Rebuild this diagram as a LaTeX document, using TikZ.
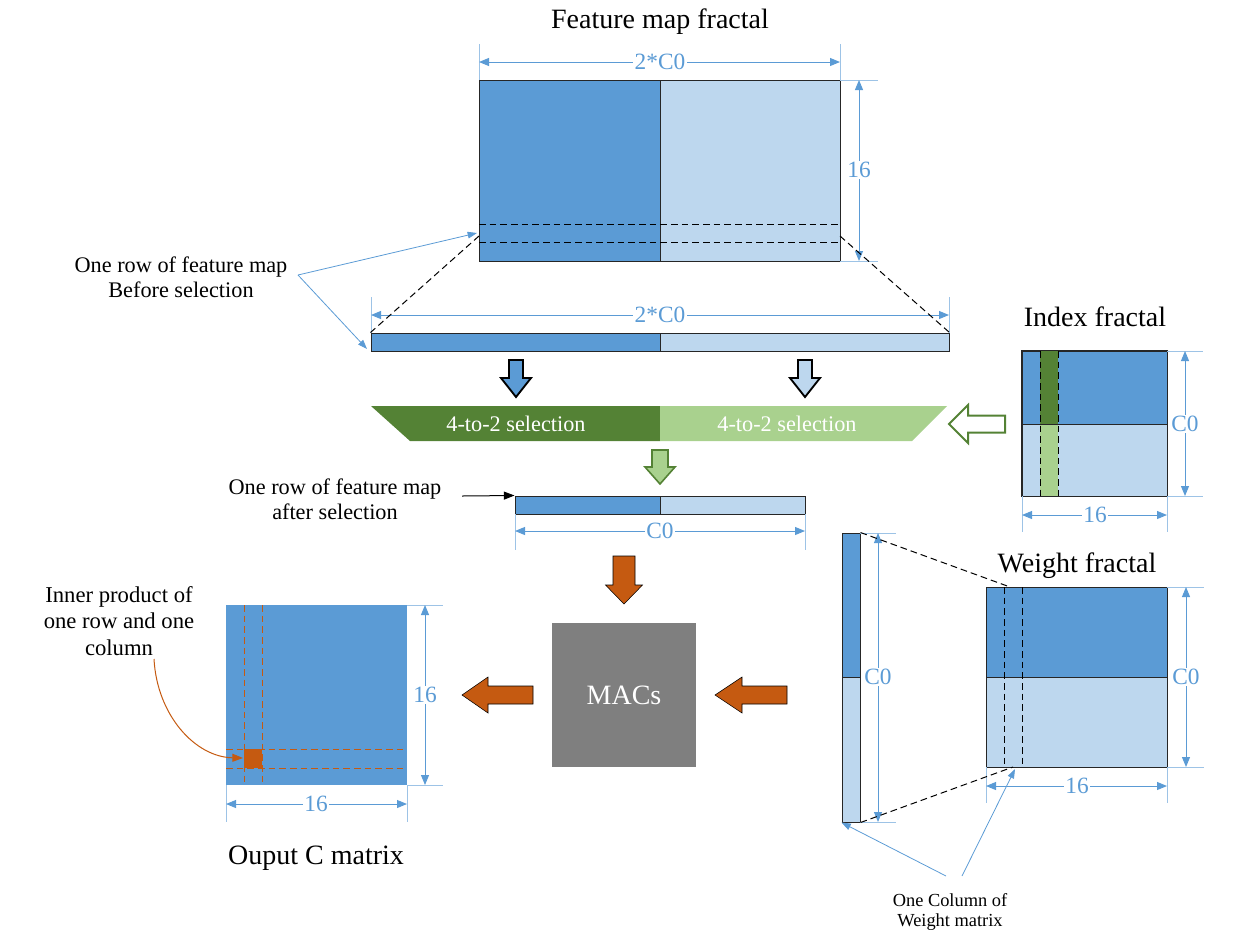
\documentclass[tikz,border=0pt]{standalone}
\usepackage{fontspec}
\setmainfont{Liberation Serif}
\usetikzlibrary{arrows.meta,fit}
\definecolor{dblue}{HTML}{5B9BD5}
\definecolor{lblue}{HTML}{BDD7EE}
\definecolor{dimc}{HTML}{5B9BD5}
\definecolor{extc}{HTML}{9DC3E6}
\definecolor{dgreen}{HTML}{548235}
\definecolor{lgreen}{HTML}{A9D18E}
\definecolor{orng}{HTML}{C55A11}
\definecolor{macg}{HTML}{7F7F7F}
\newcommand\blkdown[7]{\draw[#7] ({#1-#5},#2) -- ({#1+#5},#2) -- ({#1+#5},#3) -- ({#1+#6},#3) -- (#1,#4) -- ({#1-#6},#3) -- ({#1-#5},#3) -- cycle;}
\newcommand\blkleft[7]{\draw[#7] (#1,#2) -- (#3,{#2-#6}) -- (#3,{#2-#5}) -- (#4,{#2-#5}) -- (#4,{#2+#5}) -- (#3,{#2+#5}) -- (#3,{#2+#6}) -- cycle;}
\begin{document}
\begin{tikzpicture}[x=0.75pt,y=-0.75pt,
  box/.style={draw=black!85, line width=0.75pt, inner sep=0pt},
  plain/.style={inner sep=0pt},
  rowdash/.style={draw=black, line width=0.75pt, dash pattern=on 5pt off 3pt},
  odash/.style={draw=orng, line width=0.75pt, dash pattern=on 5pt off 3pt},
  dimline/.style={draw=dimc, line width=0.75pt, {Triangle[length=7.5pt,width=6pt]}-{Triangle[length=7.5pt,width=6pt]}},
  extline/.style={draw=extc, line width=0.75pt},
  dimlabel/.style={fill=white, text=dimc, font=\fontsize{17.5}{19}\selectfont, inner sep=1pt},
  title/.style={font=\fontsize{21}{24}\selectfont},
  note/.style={font=\fontsize{16.7}{19}\selectfont, align=center},
  leader/.style={draw=dimc, line width=0.6pt, -{Triangle[length=7pt,width=5pt]}},
]
\useasboundingbox (0,0) rectangle (1260,951);

% ---------- Feature map fractal ----------
\node[title] (fmtitle) at (660,22) {Feature map fractal};
\node[box, fill=dblue, fit={(479,80)(660,261)}] (fmL) {};
\node[box, fill=lblue, fit={(660,80)(840,261)}] (fmR) {};
\draw[rowdash] (479,224) -- (840,224);
\draw[rowdash] (479,242) -- (840,242);
\draw[extline] (479,44) -- (479,80) (840,44) -- (840,80);
\draw[dimline] (479,62) -- (840,62);
\node[dimlabel] (fmw) at (660,62) {2*C0};
\draw[extline] (840,80) -- (878,80) (840,261) -- (878,261);
\draw[dimline] (859,80) -- (859,261);
\node[dimlabel] (fmh) at (859,170) {16};

% ---------- row before selection ----------
\node[box, fill=dblue, fit={(371,333)(660,351)}] (barL) {};
\node[box, fill=lblue, fit={(660,333)(949,351)}] (barR) {};
\draw[extline] (371,297) -- (371,333) (949,297) -- (949,333);
\draw[dimline] (371,315) -- (949,315);
\node[dimlabel] (barw) at (660,315) {2*C0};
\coordinate (rowA) at (479,236);
\coordinate (rowB) at (840,236);
\draw[rowdash] (rowA) -- (barL.north west);
\draw[rowdash] (rowB) -- (barR.north east);

\node[note] (before) at (181,277) {One row of feature map\\Before selection};
\coordinate (beforeO) at (298,275);
\coordinate (beforeT1) at (477,233);
\coordinate (beforeT2) at (367,349);
\draw[leader] (beforeO) -- (beforeT1);
\draw[leader] (beforeO) -- (beforeT2);

% ---------- down arrows to selection ----------
\blkdown{516}{360}{378}{397}{7}{15}{fill=dblue, draw=black, line width=1.4pt, line join=miter}
\blkdown{805}{360}{378}{397}{7}{15}{fill=lblue, draw=black, line width=1.4pt, line join=miter}

% ---------- selection bar ----------
\fill[dgreen] (371,406) -- (660,406) -- (660,441) -- (410,441) -- cycle;
\fill[lgreen] (660,406) -- (947,406) -- (912,441) -- (660,441) -- cycle;
\node[note, text=white] (selL) at (516,424) {4-to-2 selection};
\node[note, text=white] (selR) at (787,424) {4-to-2 selection};

% hollow arrow from index fractal
\blkleft{949}{424}{968}{1005}{8.5}{19}{fill=white, draw=dgreen, line width=1.5pt, line join=miter}

% ---------- Index fractal ----------
\node[title] (ixtitle) at (1095,317) {Index fractal};
\node[box, fill=dblue, fit={(1022,351)(1167,424)}] (ixT) {};
\node[box, fill=lblue, fit={(1022,424)(1167,496)}] (ixB) {};
\fill[dgreen] (1040,351) rectangle (1058,424);
\fill[lgreen] (1040,424) rectangle (1058,496);
\draw[rowdash] (1040,351) -- (1040,496) (1058,351) -- (1058,496);
\draw[black!85, line width=0.75pt] (ixT.north west) rectangle (ixB.south east) (ixT.south west) -- (ixT.south east);
\draw[extline] (1167,351) -- (1203,351) (1167,496) -- (1203,496);
\draw[dimline] (1185,351) -- (1185,496);
\node[dimlabel] (ixh) at (1185,424) {C0};
\draw[extline] (1022,496) -- (1022,532) (1167,496) -- (1167,532);
\draw[dimline] (1022,515) -- (1167,515);
\node[dimlabel] (ixw) at (1095,515) {16};

% ---------- row after selection ----------
\blkdown{660}{450}{467}{484}{8}{15}{fill=lgreen, draw=dgreen, line width=1.2pt, line join=miter}
\node[box, fill=dblue, fit={(515,496)(660,514)}] (barsL) {};
\node[box, fill=lblue, fit={(660,496)(805,514)}] (barsR) {};
\draw[extline] (515,514) -- (515,550) (805,514) -- (805,550);
\draw[dimline] (515,531) -- (805,531);
\node[dimlabel] (barsw) at (660,531) {C0};
\node[note] (after) at (335,499) {One row of feature map\\after selection};
\coordinate (afterO) at (462,496);
\draw[black, line width=0.75pt, -{Triangle[length=8pt,width=6pt]}] (afterO) -- (barsL.north west);

% ---------- MACs ----------
\blkdown{624}{556}{585}{604}{11}{18.5}{fill=orng}
\node[fill=macg, minimum width=108pt, minimum height=108pt, text=white, font=\fontsize{21}{24}\selectfont] (mac) at (624,695) {MACs};
\blkleft{462}{695}{488}{533}{9}{18}{fill=orng}
\blkleft{715}{695}{742}{787}{9}{18}{fill=orng}

% ---------- Output C matrix ----------
\node[plain, fill=dblue, fit={(226,605)(407,785)}] (outm) {};
\draw[odash] (244,605) -- (244,785) (262,605) -- (262,785);
\draw[odash] (226,749) -- (407,749) (226,768) -- (407,768);
\node[plain, fill=orng, fit={(244,749)(262,768)}] (cell) {};
\draw[extline] (407,605) -- (443,605) (407,785) -- (443,785);
\draw[dimline] (425,605) -- (425,785);
\node[dimlabel] (outh) at (425,695) {16};
\draw[extline] (226,785) -- (226,822) (407,785) -- (407,822);
\draw[dimline] (226,804) -- (407,804);
\node[dimlabel] (outw) at (316,804) {16};
\node[title] (outtitle) at (316,858) {Ouput C matrix};
\node[font=\fontsize{17}{20}\selectfont, align=center] (inner) at (119,621) {Inner product of\\one row and one\\column};
\coordinate (innerO) at (154,659);
\coordinate (innerT) at (243,758);
\draw[orng, line width=0.75pt, -{Triangle[length=8pt,width=6pt]}] (innerO) .. controls (157,715) and (195,757) .. (innerT);

% ---------- Weight column ----------
\node[box, fill=dblue, fit={(842,533)(860,677)}] (wcT) {};
\node[box, fill=lblue, fit={(842,677)(860,822)}] (wcB) {};
\draw[extline] (860,533) -- (896,533) (860,822) -- (896,822);
\draw[dimline] (878,533) -- (878,822);
\node[dimlabel] (wch) at (878,677) {C0};

% ---------- Weight fractal ----------
\node[title] (wftitle) at (1077,566) {Weight fractal};
\node[box, fill=dblue, fit={(986,587)(1167,677)}] (wfT) {};
\node[box, fill=lblue, fit={(986,677)(1167,767)}] (wfB) {};
\draw[rowdash] (1004,587) -- (1004,767) (1022,587) -- (1022,767);
\draw[extline] (1167,587) -- (1204,587) (1167,767) -- (1204,767);
\draw[dimline] (1186,587) -- (1186,767);
\node[dimlabel] (wfh) at (1186,677) {C0};
\draw[extline] (986,767) -- (986,803) (1167,767) -- (1167,803);
\draw[dimline] (986,786) -- (1167,786);
\node[dimlabel] (wfw) at (1077,786) {16};
\coordinate (wcolTop) at (1010,587);
\coordinate (wcolBot) at (1013,767);
\draw[rowdash] (wcT.north east) -- (wcolTop);
\draw[rowdash] (wcB.south east) -- (wcolBot);

\node[font=\fontsize{13.8}{14.3}\selectfont, align=center] (colnote) at (950,912) {One Column of\\Weight matrix};
\coordinate (colO1) at (946,876);
\coordinate (colO2) at (962,876);
\coordinate (colT2) at (1015,769);
\draw[leader] (colO1) -- (wcB.south west);
\draw[leader] (colO2) -- (colT2);
\end{tikzpicture}
\end{document}
